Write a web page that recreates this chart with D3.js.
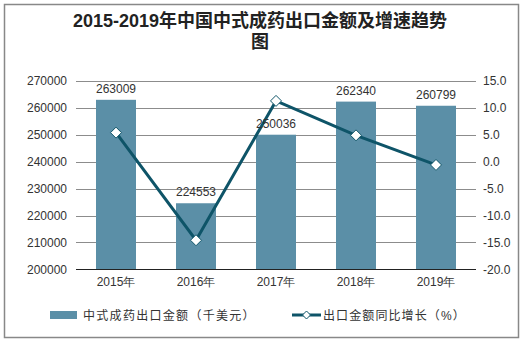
<!DOCTYPE html>
<html><head><meta charset="utf-8">
<script src="https://cdn.jsdelivr.net/npm/d3@7"></script>
<style>body{margin:0;background:#fff;}svg{display:block;font-family:"Liberation Sans",Arial,"Noto Sans CJK SC",sans-serif;}</style>
</head><body>
<svg id="c" width="523" height="343"></svg>
<script>
const categories = ["2015年","2016年","2017年","2018年","2019年"];
const exportValues = [263009, 224553, 250036, 262340, 260799];
const growthRates = [5.4, -14.6, 11.3, 4.9, -0.6];
const leftTicks = [200000,210000,220000,230000,240000,250000,260000,270000];
const rightTicks = [-20,-15,-10,-5,0,5,10,15];
const titleLines = ["2015-2019年中国中式成药出口金额及增速趋势","图"];
const legendLabels = ["中式成药出口金额（千美元）","出口金额同比增长（%）"];

const svg = d3.select("#c");
const barColor = "#5b8fa7", lineColor = "#0e5468", textColor = "#333";
svg.append("rect").attr("x",4.5).attr("y",4.5).attr("width",514).attr("height",333)
  .attr("fill","#fff").attr("stroke","#888").attr("stroke-width",1.5);

svg.selectAll(".title").data(titleLines).join("text")
  .attr("x",260).attr("y",(d,i)=>26.5+i*21).attr("text-anchor","middle")
  .attr("font-size",18).attr("font-weight","bold").attr("fill","#222").text(d=>d);

const L=76, R=476, T=81, B=269.3;
const x = d3.scaleBand().domain(categories).range([L,R]).paddingInner(0.5).paddingOuter(0.25);
const yL = d3.scaleLinear().domain([200000,270000]).range([B,T]);
const yR = d3.scaleLinear().domain([-20,15]).range([B,T]);

// gridlines
svg.append("g").selectAll("line").data(leftTicks.slice(1)).join("line")
  .attr("x1",L).attr("x2",R).attr("y1",d=>Math.round(yL(d))+0.5).attr("y2",d=>Math.round(yL(d))+0.5)
  .attr("stroke","#8c8c8c").attr("stroke-width",1);

// bars
svg.append("g").selectAll("rect").data(exportValues).join("rect")
  .attr("x",(d,i)=>x(categories[i])).attr("width",x.bandwidth())
  .attr("y",d=>yL(d)).attr("height",d=>B-yL(d)).attr("fill",barColor);

// bottom axis line
svg.append("line").attr("x1",L).attr("x2",R).attr("y1",269.5).attr("y2",269.5).attr("stroke","#222").attr("stroke-width",1.2);

// left axis
const gL = svg.append("g").attr("transform",`translate(${L-9},0)`)
  .call(d3.axisLeft(yL).tickValues(leftTicks).tickSize(0).tickPadding(0).tickFormat(d3.format("d")));
gL.select(".domain").remove();
gL.selectAll("text").attr("font-size",12).attr("fill",textColor).attr("font-family",null);

// right axis
const gR = svg.append("g").attr("transform",`translate(${R+7},0)`)
  .call(d3.axisRight(yR).tickValues(rightTicks).tickSize(0).tickPadding(0).tickFormat(d3.format(".1f")));
gR.select(".domain").remove();
gR.selectAll("text").attr("font-size",12).attr("fill",textColor).attr("font-family",null)
  .text(d=>d3.format(".1f")(d).replace("−","-"));

// x axis
const gX = svg.append("g").attr("transform",`translate(0,${B+8})`)
  .call(d3.axisBottom(x).tickSize(0).tickPadding(0));
gX.select(".domain").remove();
gX.selectAll("text").attr("font-size",12).attr("fill",textColor).attr("font-family",null).attr("dy","0.71em");

// line
const cx = i => x(categories[i]) + x.bandwidth()/2;
const line = d3.line().x((d,i)=>cx(i)).y(d=>yR(d));
svg.append("path").datum(growthRates).attr("d",line).attr("fill","none")
  .attr("stroke",lineColor).attr("stroke-width",3);
const diamond = "M0,-5.5L5.5,0L0,5.5L-5.5,0Z";
svg.append("g").selectAll("path").data(growthRates).join("path")
  .attr("d",diamond).attr("transform",(d,i)=>`translate(${cx(i)},${yR(d)})`)
  .attr("fill","#fff").attr("stroke",lineColor).attr("stroke-width",1);

// bar labels
svg.append("g").selectAll("text").data(exportValues).join("text")
  .attr("x",(d,i)=>cx(i)).attr("y",d=>yL(d)-7).attr("text-anchor","middle")
  .attr("font-size",12).attr("fill",textColor).text(d=>d);

// legend
const lg = svg.append("g");
lg.append("rect").attr("x",50).attr("y",311).attr("width",27).attr("height",8).attr("fill",barColor);
lg.append("text").attr("x",83).attr("y",320).attr("font-size",12).attr("letter-spacing","1.3px").attr("fill",textColor).text(legendLabels[0]);
lg.append("line").attr("x1",292).attr("x2",321).attr("y1",315).attr("y2",315).attr("stroke",lineColor).attr("stroke-width",3);
lg.append("path").attr("d","M0,-4L4,0L0,4L-4,0Z").attr("transform","translate(306.5,315)")
  .attr("fill","#fff").attr("stroke",lineColor).attr("stroke-width",1);
lg.append("text").attr("x",323).attr("y",320).attr("font-size",12).attr("letter-spacing","1.1px").attr("fill",textColor).text(legendLabels[1]);
</script>
</body></html>
